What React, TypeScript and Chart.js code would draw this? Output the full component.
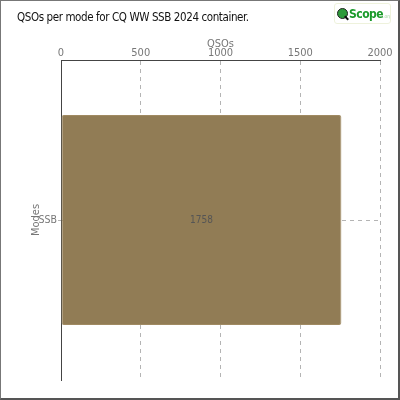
import React, { useEffect, useRef } from 'react';
import { Chart, registerables } from 'chart.js';

Chart.register(...registerables);

const modes = ['SSB'];
const qsos = [1758];
const xTicks = [0, 500, 1000, 1500, 2000];

const chartTitle = 'QSOs per mode for CQ WW SSB 2024 container.';
const barColor = '#917c55';
const gridColor = '#b4b4b4';
const textColor = '#777';
const fontFamily = '"DejaVu Sans Condensed", "Liberation Sans Narrow", sans-serif';

// draws the value in the middle of each bar
const valueLabels = {
  id: 'valueLabels',
  afterDatasetsDraw(chart: Chart) {
    const { ctx } = chart;
    const meta = chart.getDatasetMeta(0);
    ctx.save();
    ctx.fillStyle = '#555';
    ctx.font = `10px ${fontFamily}`;
    ctx.textAlign = 'center';
    ctx.textBaseline = 'middle';
    meta.data.forEach((bar: any, i: number) => {
      ctx.fillText(String(qsos[i]), (bar.x + bar.base) / 2, bar.y);
    });
    ctx.restore();
  },
};

const ModeChart: React.FC = () => {
  const canvasRef = useRef<HTMLCanvasElement>(null);

  useEffect(() => {
    if (!canvasRef.current) return;
    const chart = new Chart(canvasRef.current, {
      type: 'bar',
      data: {
        labels: modes,
        datasets: [{
          label: 'QSOs',
          data: qsos,
          backgroundColor: barColor,
          borderColor: '#a08a62',
          borderWidth: 1,
          borderRadius: 2,
          borderSkipped: false,
          categoryPercentage: 0.8,
          barPercentage: 0.82,
        }],
      },
      options: {
        indexAxis: 'y',
        animation: false,
        responsive: false,
        layout: { padding: { top: 38, right: 20, bottom: 20, left: 30 } },
        scales: {
          x: {
            position: 'top',
            min: 0,
            max: 2000,
            afterBuildTicks: (axis: any) => { axis.ticks = xTicks.map(v => ({ value: v })); },
            afterFit: (axis: any) => { axis.height = 22; },
            title: { display: true, text: 'QSOs', color: textColor, font: { family: fontFamily, size: 11 }, padding: { top: 0, bottom: -3 } },
            ticks: { color: textColor, font: { family: fontFamily, size: 11 }, padding: 0, callback: (v: any) => String(v) },
            border: { display: true, color: '#444', width: 1, dash: [4, 4] },
            grid: { color: gridColor, drawTicks: false },
          },
          y: {
            afterFit: (axis: any) => { axis.width = 31; },
            title: { display: true, text: 'Modes', color: textColor, font: { family: fontFamily, size: 11 }, padding: 0 },
            ticks: { color: textColor, font: { family: fontFamily, size: 10.5 }, padding: 1 },
            border: { display: true, color: '#444', width: 1, dash: [4, 4] },
            grid: { color: gridColor, tickLength: 3, offset: false },
          },
        },
        plugins: {
          legend: { display: false },
          tooltip: { enabled: false },
        },
      },
      plugins: [valueLabels],
    });
    return () => chart.destroy();
  }, []);

  return <canvas ref={canvasRef} width={400} height={400} style={{ position: 'absolute', left: 0, top: 0 }} />;
};

const Logo: React.FC = () => (
  <div style={{
    position: 'absolute', left: 334, top: 3, width: 57, height: 21, boxSizing: 'border-box',
    border: '1px solid #eef2dc', borderRadius: 3, background: '#fff',
    display: 'flex', alignItems: 'center', fontFamily: '"DejaVu Sans Condensed", sans-serif',
    overflow: 'hidden',
  }}>
    <div style={{ position: 'relative', width: 13, height: 16, marginLeft: 1, flexShrink: 0 }}>
      <div style={{ position: 'absolute', left: 1, top: 2, width: 9, height: 9, borderRadius: '50%', background: '#2e9a3a', border: '1px solid #222' }} />
      <div style={{ position: 'absolute', left: 8, top: 11, width: 5, height: 2, background: '#111', transform: 'rotate(45deg)' }} />
    </div>
    <span style={{ color: '#1a9a2a', fontWeight: 'bold', fontSize: 12, lineHeight: '12px', letterSpacing: -0.5 }}>Scope</span>
    <span style={{ color: '#9bd39b', fontSize: 5, marginTop: 5 }}>.org</span>
  </div>
);

export default function App() {
  return (
    <div style={{ position: 'fixed', left: 0, top: 0, width: 400, height: 400, background: '#fff' }}>
      <ModeChart />
      <div style={{
        position: 'absolute', left: 17, top: 10, fontFamily: '"DejaVu Sans Condensed", sans-serif', fontSize: 11.5, color: '#111',
        letterSpacing: -0.4,
      }}>{chartTitle}</div>
      <Logo />
      <div style={{
        position: 'absolute', left: 0, top: 0, width: 400, height: 400, boxSizing: 'border-box',
        borderLeft: '1px solid #777', borderTop: '1px solid #777', borderRight: '2px solid #555', borderBottom: '2px solid #555',
        pointerEvents: 'none',
      }} />
    </div>
  );
}
